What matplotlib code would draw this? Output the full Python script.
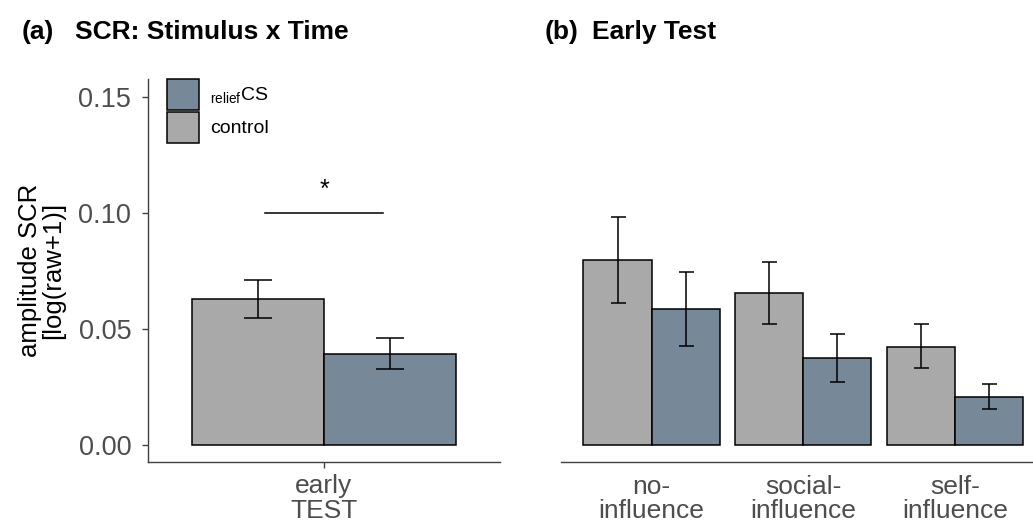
import numpy as np
import matplotlib
matplotlib.use('Agg')
import matplotlib.pyplot as plt
from matplotlib.patches import Patch

plt.rcParams['font.family'] = ['Liberation Sans', 'DejaVu Sans']
plt.rcParams['mathtext.fontset'] = 'custom'
plt.rcParams['mathtext.rm'] = 'Liberation Sans'

# ---- data ----
groups = ['control', 'relief']
colors = {'control': '#A9A9A9', 'relief': '#778899'}

# panel (a): early TEST
a_labels = ['early\nTEST']
a_mean = {'control': [0.0627], 'relief': [0.0389]}
a_lo = {'control': [0.0544], 'relief': [0.0324]}
a_hi = {'control': [0.0709], 'relief': [0.0460]}

# panel (b): early test by influence condition
b_labels = ['no-\ninfluence', 'social-\ninfluence', 'self-\ninfluence']
b_mean = {'control': [0.0796, 0.0655, 0.0422], 'relief': [0.0586, 0.0372, 0.0207]}
b_lo = {'control': [0.0609, 0.0519, 0.0332], 'relief': [0.0425, 0.0269, 0.0153]}
b_hi = {'control': [0.0981, 0.0789, 0.0519], 'relief': [0.0746, 0.0476, 0.0262]}

ylim = (-0.0075, 0.1576)
axcol = '#404040'
tickcol = '#4d4d4d'

fig = plt.figure(figsize=(10.33, 5.23), dpi=100)
ax0 = fig.add_axes([148/1033, 1-462/523, 352/1033, 383/523])
ax1 = fig.add_axes([560.7/1033, 1-462/523, 485/1033, 383/523])


def draw_bars(ax, mean, lo, hi, capsize):
    x = np.arange(1, len(mean['control'])+1)
    offs = {'control': -0.225, 'relief': 0.225}
    for g in groups:
        xs = x + offs[g]
        ax.bar(xs, mean[g], width=0.45, color=colors[g], edgecolor='black',
               linewidth=1.1, zorder=2)
        m = np.array(mean[g])
        err = [m - np.array(lo[g]), np.array(hi[g]) - m]
        ax.errorbar(xs, m, yerr=err, fmt='none', ecolor='black',
                    elinewidth=1.1, capsize=capsize, capthick=1.1, zorder=3)
    return x


x0 = draw_bars(ax0, a_mean, a_lo, a_hi, 10.4)
x1 = draw_bars(ax1, b_mean, b_lo, b_hi, 5.4)

for ax, xt, labs, n in ((ax0, x0, a_labels, 1), (ax1, x1, b_labels, 3)):
    ax.set_xlim(0.4, n + 0.6)
    ax.set_ylim(*ylim)
    ax.set_xticks(xt)
    ax.set_xticklabels(labs, fontsize=19, color=tickcol, linespacing=1.05)
    for s in ('top', 'right'):
        ax.spines[s].set_visible(False)
    ax.spines['bottom'].set_color(axcol)
    ax.spines['bottom'].set_linewidth(1.0)

ax0.spines['left'].set_color(axcol)
ax0.spines['left'].set_linewidth(1.0)
ax0.set_yticks([0.0, 0.05, 0.10, 0.15])
ax0.set_yticklabels(['0.00', '0.05', '0.10', '0.15'], fontsize=19.5, color=tickcol)
ax0.tick_params(axis='both', length=4, width=1.0, color=axcol)
ax0.tick_params(axis='y', pad=8)
ax0.tick_params(axis='x', pad=5)
ax0.set_ylabel('amplitude SCR\n[log(raw+1)]', fontsize=18.5, linespacing=0.95)
ax0.yaxis.set_label_coords(-0.236, 0.5)

ax1.spines['left'].set_visible(False)
ax1.set_yticks([])
ax1.tick_params(axis='x', length=0, pad=9)

# significance bar
ax0.plot([0.8, 1.2], [0.10, 0.10], color='black', linewidth=1.1)
ax0.text(1.0, 0.1045, '*', ha='center', va='bottom', fontsize=18)

# legend
handles = [Patch(facecolor=colors['relief'], edgecolor='black', linewidth=1.1),
           Patch(facecolor=colors['control'], edgecolor='black', linewidth=1.1)]
ax0.legend(handles, [r'$_{\mathrm{relief}}$CS', 'control'], loc='upper left',
           bbox_to_anchor=(0.054, 1.0), frameon=False, fontsize=14,
           borderpad=0, borderaxespad=0, handlelength=1.65, handleheight=2.07,
           labelspacing=0.1, handletextpad=0.57)

# panel titles
fig.text(22/1033, 1-39/523, '(a)', fontsize=19, fontweight='bold', va='baseline')
fig.text(75/1033, 1-39/523, 'SCR: Stimulus x Time', fontsize=19, fontweight='bold', va='baseline')
fig.text(545/1033, 1-39/523, '(b)', fontsize=19, fontweight='bold', va='baseline')
fig.text(592/1033, 1-39/523, 'Early Test', fontsize=19, fontweight='bold', va='baseline')

fig.savefig('out.png', dpi=100)
